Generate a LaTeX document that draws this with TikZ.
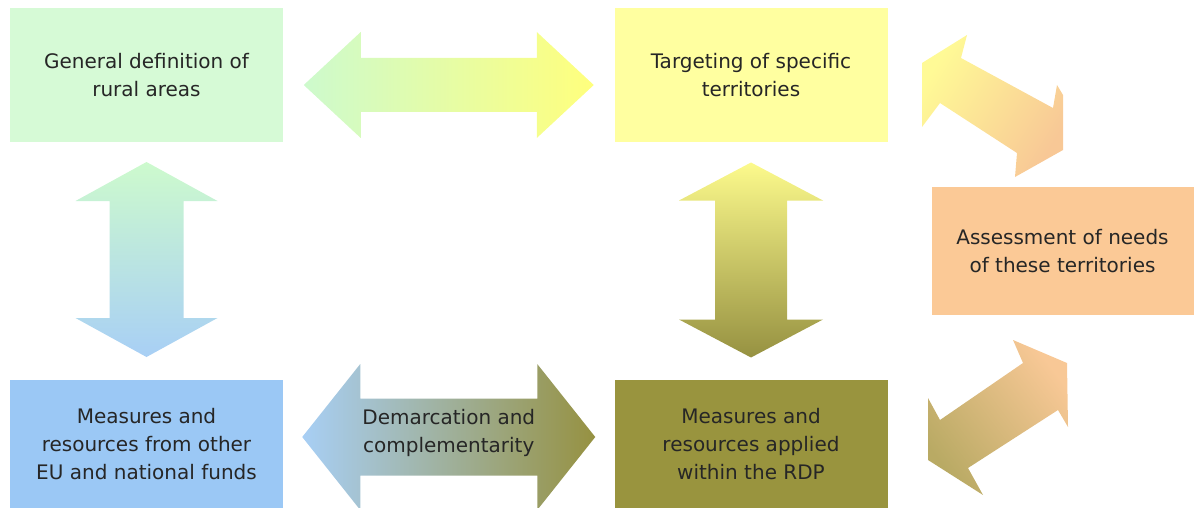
\documentclass[tikz,border=0pt]{standalone}
\usepackage{fontspec}
\setmainfont{DejaVu Sans}
\usetikzlibrary{positioning,calc}

\definecolor{ruralgreen}{RGB}{214,250,214}
\definecolor{targetyellow}{RGB}{255,255,160}
\definecolor{needspeach}{RGB}{251,201,150}
\definecolor{fundsblue}{RGB}{155,200,245}
\definecolor{rdpolive}{RGB}{153,148,62}
\definecolor{arrgreen}{RGB}{205,250,205}
\definecolor{arryellow}{RGB}{255,255,125}
\definecolor{arrlemon}{RGB}{252,250,140}
\definecolor{arrblue}{RGB}{168,207,245}
\definecolor{arrolive}{RGB}{150,145,65}
\definecolor{diagyellow}{RGB}{255,250,150}
\definecolor{diagpeach}{RGB}{248,200,150}
\definecolor{diagkhaki}{RGB}{185,170,100}

% block arrow: style, centre, angle, half length, head length, head half width, shaft half width
\newcommand{\bigarrow}[7]{%
  \begin{scope}[shift={#2},rotate=#3]
    \path[#1] (-#4,0) -- (-#4+#5,-#6) -- (-#4+#5,-#7) -- (#4-#5,-#7) -- (#4-#5,-#6)
      -- (#4,0) -- (#4-#5,#6) -- (#4-#5,#7) -- (-#4+#5,#7) -- (-#4+#5,#6) -- cycle;
  \end{scope}}

\begin{document}
\begin{tikzpicture}[x=0.5pt,y=-0.5pt,node distance=302.25pt,on grid,
    panel/.style={rectangle,inner sep=0pt,minimum width=136.5pt,minimum height=67pt,
      align=center,text=black!85,font=\fontsize{10}{14}\selectfont}]
  \useasboundingbox (0,0) rectangle (1194,508);

  \node[panel,fill=ruralgreen] (gendef) at (146.5,75) {General definition of\\rural areas};
  \node[panel,fill=targetyellow] (target) [right=of gendef] {Targeting of specific\\territories};
  \node[panel,fill=rdpolive,minimum height=64pt] (rdp) [below=184.5pt of target]
    {Measures and\\resources applied\\within the RDP};
  \node[panel,fill=fundsblue,minimum height=64pt] (ownfunds) [left=of rdp]
    {Measures and\\resources from other\\EU and national funds};
  \node[panel,fill=needspeach,minimum width=131pt,minimum height=64pt] (assess) at (1062.5,251)
    {Assessment of needs\\of these territories};

  % arrows between the boxes
  \bigarrow{left color=arrgreen,right color=arryellow}{($(gendef.east)!0.5!(target.west)+(0,10)$)}{0}{145}{57}{53}{27}
  \bigarrow{top color=arrgreen,bottom color=arrblue}{($(gendef.south)!0.5!(ownfunds.north)+(0,-1.5)$)}{90}{97.5}{39}{71}{37}
  \bigarrow{top color=arrlemon,bottom color=arrolive}{($(target.south)!0.5!(rdp.north)+(0,-1)$)}{90}{97.5}{38}{72}{36}
  \bigarrow{left color=arrblue,right color=arrolive}{($(ownfunds.east)!0.5!(rdp.west)+(0,-7)$)}{0}{146.5}{58}{73}{38.5}
  \node[align=center,text=black!85,font=\fontsize{10}{14}\selectfont] (demarc)
    at ($(ownfunds.east)!0.5!(rdp.west)+(0,-11)$) {Demarcation and\\complementarity};

  % arrows to the assessment box
  \path[top color=diagyellow,bottom color=diagpeach,shading angle=58]
    (967,35) -- (922,63) -- (922,127) -- (940,103) -- (1017,153) -- (1015,177)
    -- (1063,150) -- (1063,95) -- (1057,85) -- (1053,108) -- (961,58) -- cycle;
  \path[top color=diagpeach,bottom color=diagkhaki,shading angle=-53]
    (1013,340) -- (1067,363) -- (1068,427) -- (1058,410) -- (968,468) -- (983,495)
    -- (928,460) -- (928,398) -- (940,420) -- (1023,363) -- cycle;
\end{tikzpicture}
\end{document}
